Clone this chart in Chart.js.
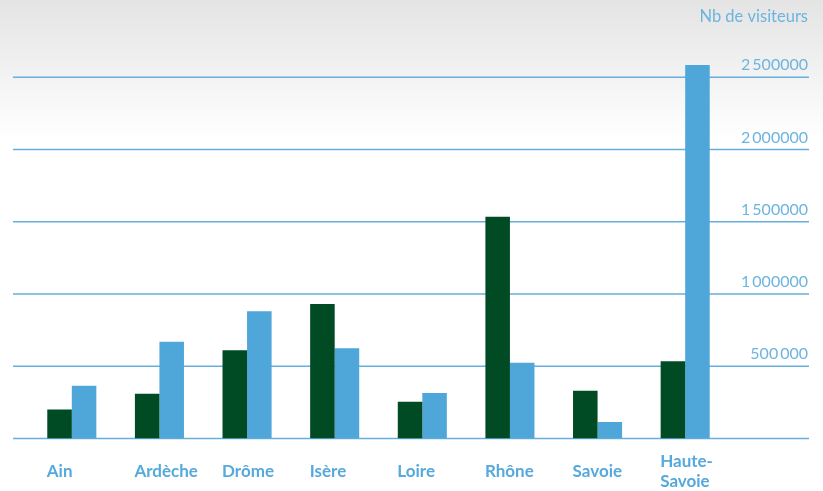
<!DOCTYPE html>
<html>
<head>
<meta charset="utf-8">
<script src="https://cdn.jsdelivr.net/npm/chart.js@4"></script>
<style>
  html, body { margin: 0; padding: 0; }
  body {
    width: 823px; height: 491px; overflow: hidden;
    background: linear-gradient(to bottom, #e4e4e4 0px, #ffffff 140px, #ffffff 491px);
  }
  #wrap { position: relative; width: 823px; height: 491px; }
</style>
</head>
<body>
<div id="wrap"><canvas id="c" width="823" height="491"></canvas></div>
<script>
// Départements (catégories)
const departements = ['Ain', 'Ardèche', 'Drôme', 'Isère', 'Loire', 'Rhône', 'Savoie', ['Haute-', 'Savoie']];

// Nombre de visiteurs par département, deux séries
const serieVert = [200000, 310000, 610000, 930000, 255000, 1535000, 330000, 535000];
const serieBleu = [365000, 670000, 880000, 625000, 315000, 525000, 115000, 2585000];

// Graduations de l'axe des valeurs
const graduations = [0, 500000, 1000000, 1500000, 2000000, 2500000];
const libellesGraduations = ['', '500\u2009000', '1\u2009000000', '1\u2009500000', '2\u2009000000', '2\u2009500000'];
const titreAxe = 'Nb de visiteurs';

const BLEU_TEXTE = '#6db4df';
const POLICE = 'Lato, "Noto Sans", sans-serif';

// Quadrillage horizontal et libellés de l'axe des valeurs, à droite
const quadrillage = {
  id: 'quadrillage',
  beforeDatasetsDraw(chart) {
    const { ctx, scales: { y } } = chart;
    ctx.save();
    ctx.strokeStyle = '#66afdd';
    ctx.lineWidth = 1.6;
    graduations.forEach((v, i) => {
      const py = y.getPixelForValue(v);
      ctx.beginPath();
      ctx.moveTo(13, py);
      ctx.lineTo(809, py);
      ctx.stroke();
      if (libellesGraduations[i]) {
        ctx.fillStyle = BLEU_TEXTE;
        ctx.font = '16px ' + POLICE;
        ctx.textAlign = 'right';
        ctx.textBaseline = 'alphabetic';
        ctx.fillText(libellesGraduations[i], 808, py - 7);
      }
    });
    ctx.fillStyle = BLEU_TEXTE;
    ctx.font = '16.5px ' + POLICE;
    ctx.textAlign = 'right';
    ctx.textBaseline = 'alphabetic';
    ctx.fillText(titreAxe, 808, 22);
    ctx.restore();
  }
};

new Chart(document.getElementById('c'), {
  type: 'bar',
  data: {
    labels: departements,
    datasets: [
      { label: 'Série 1', data: serieVert, backgroundColor: '#004b23' },
      { label: 'Série 2', data: serieBleu, backgroundColor: '#4fa6d9' }
    ]
  },
  options: {
    responsive: false,
    animation: false,
    devicePixelRatio: 1,
    categoryPercentage: 0.56,
    barPercentage: 1,
    layout: { padding: { left: 28, right: 94, top: 5, bottom: 0 } },
    plugins: { legend: { display: false }, tooltip: { enabled: false } },
    scales: {
      x: {
        grid: { display: false },
        border: { display: false },
        afterFit(scale) { scale.height = 52.5; },
        ticks: {
          color: '#55a9dc',
          font: { family: POLICE, size: 17, weight: 'bold', lineHeight: 1.12 },
          padding: 15.5,
          align: 'start',
          labelOffset: -25,
          crossAlign: 'center',
          maxRotation: 0,
          autoSkip: false
        }
      },
      y: {
        display: false,
        min: 0,
        max: 3000000
      }
    }
  },
  plugins: [quadrillage]
});
</script>
</body>
</html>
